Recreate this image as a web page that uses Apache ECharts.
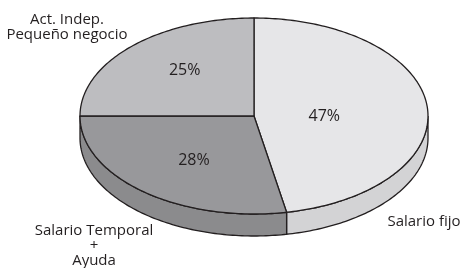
<!DOCTYPE html>
<html>
<head>
<meta charset="utf-8">
<script src="https://cdn.jsdelivr.net/npm/echarts@6/dist/echarts.min.js"></script>
<style>
  html, body { margin: 0; padding: 0; background: #fff; }
  #main { width: 463px; height: 268px; }
</style>
</head>
<body>
<div id="main"></div>
<script>
// datos del gráfico
var categories = ['Salario fijo', 'Salario Temporal\n+\nAyuda', 'Act. Indep.\nPequeño negocio'];
var values = [47, 28, 25];
var percentLabels = ['47%', '28%', '25%'];

// estilos
var topColors = ['#e6e6e8', '#98989b', '#bdbdc0'];
var sideColors = ['#d3d3d5', '#8b8b8d', '#aaaaad'];
var labelRadius = [0.4, 0.56, 0.62];
var labelShift = [[1, 4], [2, 2], [7, -3]];
var namePos = [[424, 214], [94, 223], [67, 12]];
var font = "'Open Sans', 'Noto Sans', sans-serif";

var cx = 254, cy = 116, rx = 174, ry = 98, depth = 22;
var total = 0;
for (var i = 0; i < values.length; i++) total += values[i];

function pt(deg, dy, r) {
  var t = deg * Math.PI / 180;
  r = r == null ? 1 : r;
  return [cx + rx * r * Math.sin(t), cy - ry * r * Math.cos(t) + (dy || 0)];
}

function arc(a, b, dy) {
  var pts = [];
  var step = a < b ? 1 : -1;
  for (var d = a; step > 0 ? d < b : d > b; d += step) pts.push(pt(d, dy));
  pts.push(pt(b, dy));
  return pts;
}

var chart = echarts.init(document.getElementById('main'), null, { renderer: 'canvas' });

var option = {
  animation: false,
  series: [{
    type: 'custom',
    coordinateSystem: 'none',
    data: values,
    renderItem: function (params, api) {
      var idx = params.dataIndex;
      var start = 0;
      for (var k = 0; k < idx; k++) start += values[k] / total * 360;
      var end = start + api.value(0) / total * 360;
      var children = [];

      // pared lateral (solo la mitad frontal)
      var s = Math.max(start, 90), e = Math.min(end, 270);
      if (s < e) {
        var sidePts = arc(s, e, 0).concat(arc(e, s, depth));
        children.push({
          type: 'polygon',
          shape: { points: sidePts },
          style: { fill: sideColors[idx], stroke: '#231f20', lineWidth: 1.3 }
        });
      }

      // cara superior
      var topPts = [[cx, cy]].concat(arc(start, end, 0));
      children.push({
        type: 'polygon',
        shape: { points: topPts },
        style: { fill: topColors[idx], stroke: '#231f20', lineWidth: 1.3, lineJoin: 'round' }
      });

      var mid = (start + end) / 2;
      var lp = pt(mid, 0, labelRadius[idx]);
      children.push({
        type: 'text',
        style: {
          text: percentLabels[idx],
          x: lp[0] + labelShift[idx][0], y: lp[1] + labelShift[idx][1],
          align: 'center', verticalAlign: 'middle',
          fill: '#231f20', font: '16px ' + font
        }
      });

      children.push({
        type: 'text',
        style: {
          text: categories[idx], x: namePos[idx][0], y: namePos[idx][1],
          align: 'center', verticalAlign: 'top', lineHeight: 15,
          fill: '#231f20', font: '15px ' + font
        }
      });

      return { type: 'group', children: children };
    }
  }]
};

chart.setOption(option);
</script>
</body>
</html>
